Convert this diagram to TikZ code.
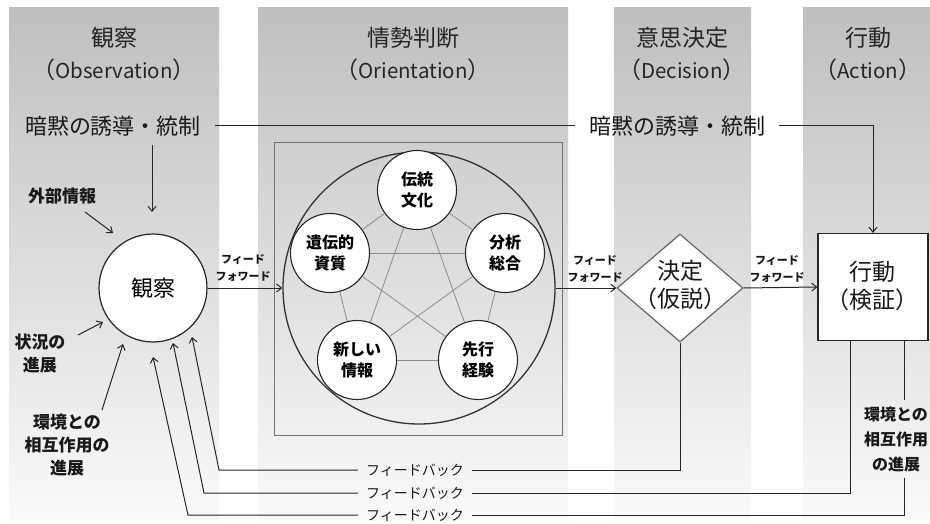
\documentclass[tikz,border=0pt]{standalone}
\usepackage{fontspec}
\setmainfont{Noto Sans CJK JP}
\newcommand{\lpar}{\kern-0.4em （}
\newcommand{\rpar}{）\kern-0.4em}
\newcommand{\engsz}{\fontsize{20.5}{27}\selectfont}
\usetikzlibrary{arrows.meta,shapes.geometric}
\begin{document}
\begin{tikzpicture}[x=1pt,y=-1pt,
  band/.style={top color=black!25,bottom color=black!2,draw=none},
  hd/.style={text=black!85,font=\fontsize{23}{27}\selectfont,inner sep=0pt},
  ctl/.style={text=black!90,font=\fontsize{22}{26}\selectfont,inner xsep=14pt,inner ysep=2pt},
  sm/.style={text=black!90,font=\bfseries\fontsize{17}{23}\selectfont,align=center,inner sep=1pt},
  pt/.style={circle,draw=black!85,fill=white,line width=1.1pt,minimum size=79pt,inner sep=0pt,
    font=\bfseries\fontsize{16}{21}\selectfont,align=center},
  ff/.style={text=black!90,font=\bfseries\fontsize{11}{17}\selectfont,align=center,inner sep=0pt},
  fb/.style={text=black!90,font=\fontsize{14}{16}\selectfont,inner xsep=8pt,inner ysep=0pt},
  big/.style={text=black!90,font=\fontsize{23}{28}\selectfont,align=center,inner sep=0pt},
  ln/.style={draw=black!85,line width=1pt},
  arr/.style={ln,-{Straight Barb[length=5pt,width=8pt]}},
  star/.style={draw=black!45,line width=0.8pt}
]
\useasboundingbox (0,0) rectangle (930,524);
\fill[white] (0,0) rectangle (930,524);
% bands
\shade[band] (9,8) rectangle (219,520);
\shade[band] (258,8) rectangle (568,520);
\shade[band] (614,8) rectangle (751,520);
\shade[band] (803,8) rectangle (930,520);

% headers
\node[hd] (h1) at (114,38) {観察};
\node[hd] (h1e) at (114,70) {\lpar{\engsz Observation}\rpar};
\node[hd] (h2) at (413,38) {情勢判断};
\node[hd] (h2e) at (413,70) {\lpar{\engsz Orientation}\rpar};
\node[hd] (h3) at (682,38) {意思決定};
\node[hd] (h3e) at (682,70) {\lpar{\engsz Decision}\rpar};
\node[hd] (h4) at (868,38) {行動};
\node[hd] (h4e) at (868,70) {\lpar{\engsz Action}\rpar};

% orientation frame and circle
\node[draw=black!55,line width=1pt,minimum width=288pt,minimum height=292pt,inner sep=0pt] (frame) at (418,289) {};
\node[circle,draw=black!80,line width=1.3pt,minimum size=272pt,inner sep=0pt] (orient) at (419,288) {};

% pentagon
\node[pt] (p1) at (417,190) {伝統\\文化};
\node[pt] (p2) at (505,253) {分析\\総合};
\node[pt] (p3) at (478,360) {先行\\経験};
\node[pt] (p4) at (357,360) {新しい\\情報};
\node[pt] (p5) at (330,253) {遺伝的\\資質};
\draw[star] (p1) -- (p2);
\draw[star] (p2) -- (p3);
\draw[star] (p3) -- (p4);
\draw[star] (p4) -- (p5);
\draw[star] (p5) -- (p1);
\draw[star] (p1) -- (p3);
\draw[star] (p1) -- (p4);
\draw[star] (p2) -- (p4);
\draw[star] (p2) -- (p5);
\draw[star] (p3) -- (p5);

% observation
\node[circle,draw=black!85,fill=white,line width=1.2pt,minimum size=108pt,inner sep=0pt,
  font=\fontsize{22}{26}\selectfont] (obs) at (153,288) {観察};

% decision
\node[diamond,draw=black!60,fill=white,line width=1.2pt,minimum width=126pt,minimum height=108pt,inner sep=0pt] (dec) at (680,288) {};
\node[big] (dect) at (680,285) {決定\\\lpar 仮説\rpar};

% action
\node[draw=black!85,fill=white,line width=1.2pt,minimum width=110pt,minimum height=107pt,inner sep=0pt] (act) at (873,287) {};
\node[big] (actt) at (872,286) {行動\\\lpar 検証\rpar};

% control
\node[ctl] (c1) at (113,126) {暗黙の誘導・統制};
\node[ctl] (c2) at (677,126) {暗黙の誘導・統制};
\draw[ln] (c1.east) -- (c2.west);
\draw[arr] (c2.east) -| (act.north);
\coordinate (v1) at (152,145);
\coordinate (v2) at (152,212);
\draw[arr] (v1) -- (v2);

% inputs to observation
\node[sm] (ext) at (62,196) {外部情報};
\coordinate (e1) at (85,212);
\coordinate (e2) at (113,233);
\draw[arr] (e1) -- (e2);
\node[sm] (sit) at (40,354) {状況の\\進展};
\coordinate (s1) at (78,335);
\coordinate (s2) at (103,322);
\draw[arr] (s1) -- (s2);
\node[sm] (env) at (67,445) {環境との\\相互作用の\\進展};
\coordinate (n1) at (102,410);
\coordinate (n2) at (123,344);
\draw[arr] (n1) -- (n2);

% feed forward
\node[ff] (ff1) at (243,268) {フィード\\フォワード};
\node[ff] (ff2) at (595,269) {フィード\\フォワード};
\node[ff] (ff3) at (777,269) {フィード\\フォワード};
\draw[arr] (obs.east) -- (orient.west);
\draw[arr] (orient.east) -- (dec.west);
\draw[arr] (dec.east) -- (act.west);

% right environment label
\node[sm,font=\bfseries\fontsize{16}{25}\selectfont] (envr) at (896,439) {環境との\\相互作用\\の進展};

% feedback
\node[fb] (fb1) at (415,470) {フィードバック};
\node[fb] (fb2) at (415,493) {フィードバック};
\node[fb] (fb3) at (415,515) {フィードバック};
\coordinate (k1) at (219,470);
\coordinate (t1) at (192,337);
\coordinate (k2) at (204,493);
\coordinate (t2) at (173,343);
\coordinate (k3) at (188,515);
\coordinate (t3) at (153,357);
\coordinate (a2) at ([xshift=-23pt]act.south);
\coordinate (a3) at ([xshift=31pt]act.south);
\coordinate (r1) at (904,400);
\coordinate (r2) at (904,478);
\draw[ln] (dec.south) |- (fb1.east);
\draw[arr] (fb1.west) -- (k1) -- (t1);
\draw[ln] (a2) |- (fb2.east);
\draw[arr] (fb2.west) -- (k2) -- (t2);
\draw[ln] (a3) -- (r1);
\draw[ln] (r2) |- (fb3.east);
\draw[arr] (fb3.west) -- (k3) -- (t3);
\end{tikzpicture}
\end{document}
